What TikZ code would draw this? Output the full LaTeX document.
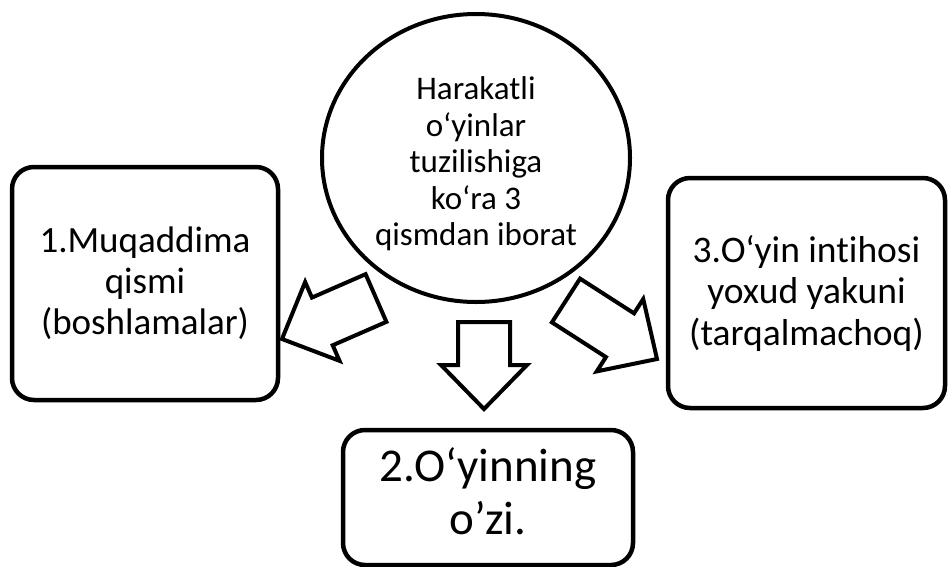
\documentclass[tikz,border=0pt]{standalone}
\usepackage{fontspec}
\setmainfont{Carlito}[Ligatures=NoCommon]
\usetikzlibrary{shapes.geometric,calc}

\tikzset{
  box/.style={draw, line width=4.5pt, rounded corners=22pt, align=center, inner sep=0pt},
  hub/.style={draw, ellipse, line width=4pt, inner sep=0pt},
  caption/.style={align=center, inner sep=0pt},
  hollowarrow/.style={draw, line width=4pt, fill=white, line join=miter},
}

% Outlined block arrow from the shaft end #1 to the tip #2
\newcommand\blockarr[2]{%
  \coordinate (#1n) at ($(#2)!44pt!(#1)$);
  \draw[hollowarrow]
    ($(#1)!26pt!90:(#2)$) -- ($(#1n)!26pt!90:(#2)$) -- ($(#1n)!43pt!90:(#2)$)
    -- (#2)
    -- ($(#1n)!43pt!-90:(#2)$) -- ($(#1n)!26pt!-90:(#2)$) -- ($(#1)!26pt!-90:(#2)$)
    -- cycle;
}

\begin{document}
\begin{tikzpicture}[x=1pt, y=-1pt]
  \useasboundingbox (0,0) rectangle (948,566);

  % central topic
  \node[hub, minimum width=308pt, minimum height=288pt] (hub) at (476,158) {};
  \node[caption, font=\fontsize{33}{36.5}\selectfont] (hubtext)
    at ($(hub.center)+(0,6)$)
    {Harakatli\\o‘yinlar\\tuzilishiga\\ko‘ra 3\\qismdan iborat};

  % the three parts
  \node[box, minimum width=266pt, minimum height=233pt,
        font=\fontsize{37}{41}\selectfont] (first) at (145,283.5)
    {1.Muqaddima\\qismi\\(boshlamalar)};
  \node[box, minimum width=277pt, minimum height=230pt,
        font=\fontsize{37.5}{41.5}\selectfont] (third) at (806.5,293)
    {3.O‘yin intihosi\\yoxud yakuni\\(tarqalmachoq)};
  \node[box, minimum width=290pt, minimum height=135pt] (second) at (488,497.5) {};
  \node[caption, font=\fontsize{47}{53}\selectfont] (secondtext)
    at ($(second.center)+(0,-6)$)
    {2.O‘yinning\\o’zi.};

  % arrow ends
  \coordinate (lA) at (376,298);   \coordinate (lB) at (282,339);
  \coordinate (mA) at (484,322);   \coordinate (mB) at (484,409);
  \coordinate (rA) at (566,300.5); \coordinate (rB) at (657,359);

  \blockarr{lA}{lB}
  \blockarr{mA}{mB}
  \blockarr{rA}{rB}
\end{tikzpicture}
\end{document}
